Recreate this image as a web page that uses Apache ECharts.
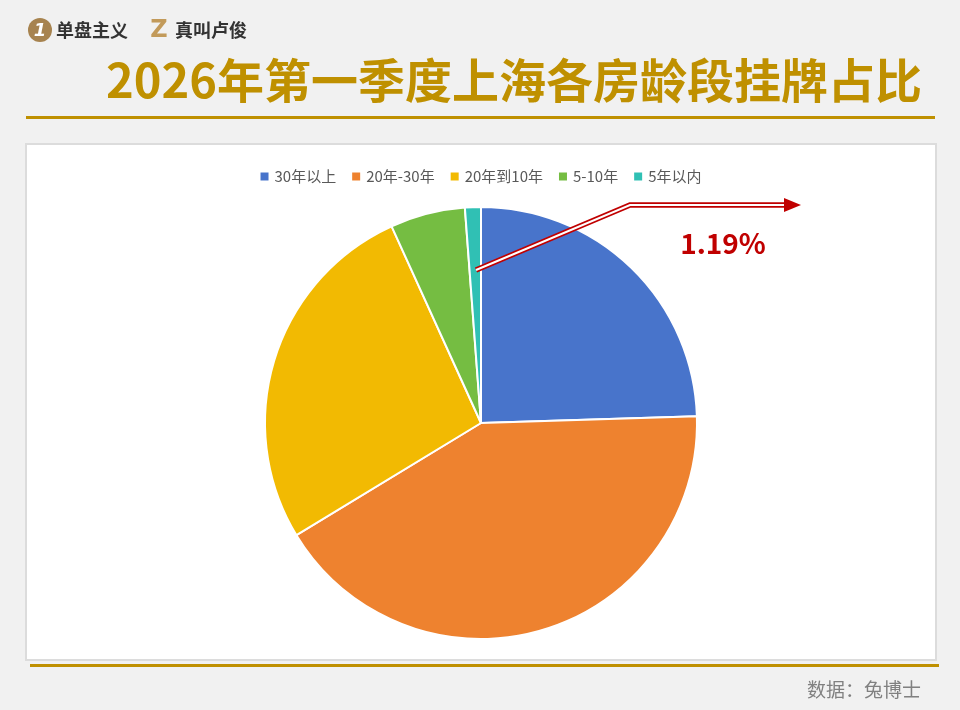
<!DOCTYPE html>
<html><head><meta charset="utf-8">
<script src="https://cdn.jsdelivr.net/npm/echarts@6/dist/echarts.min.js"></script>
<style>html,body{margin:0;padding:0;background:#f1f1f1;}#c{width:960px;height:710px;}</style>
</head><body><div id="c"></div>
<script>
const categories = ['30年以上', '20年-30年', '20年到10年', '5-10年', '5年以内'];
const shares = [24.5, 41.8, 26.9, 5.6, 1.19];
const colors = ['#4874CB', '#EE822F', '#F2BA02', '#75BD42', '#30C0B4'];
const titleText = '2026年第一季度上海各房龄段挂牌占比';
const calloutText = '1.19%';
const sourceText = '数据：兔博士';

const chart = echarts.init(document.getElementById('c'));
const gold = '#BF9000';
const red = '#C00000';
const arrowPts = [[476, 270], [630, 205], [786, 205]];
chart.setOption({
  backgroundColor: '#f1f1f1',
  animation: false,
  color: colors,
  legend: {
    top: 164, left: 'center', itemWidth: 10, itemHeight: 10, itemGap: 14,
    icon: 'rect',
    textStyle: {color: '#595959', fontSize: 15, fontFamily: 'Noto Sans CJK SC'},
    data: categories
  },
  graphic: [
    {type: 'rect', z: 0, shape: {x: 26, y: 144, width: 910, height: 516}, style: {fill: '#fff', stroke: '#dcdcdc', lineWidth: 2}},
    {type: 'rect', shape: {x: 26, y: 116, width: 909, height: 3}, style: {fill: gold}},
    {type: 'rect', shape: {x: 30, y: 664, width: 909, height: 3}, style: {fill: gold}},
    {type: 'text', style: {text: titleText, x: 106, y: 80, verticalAlign: 'middle', fill: gold, fontSize: 47, fontWeight: 'bold', fontFamily: 'Noto Sans CJK SC'}},
    {type: 'circle', shape: {cx: 40, cy: 30, r: 12}, style: {fill: '#A7834F'}},
    {type: 'text', style: {text: '1', x: 40, y: 31, align: 'center', verticalAlign: 'middle', fill: '#fff', fontSize: 18, fontWeight: 'bold', fontStyle: 'italic', fontFamily: 'DejaVu Sans'}},
    {type: 'text', style: {text: '单盘主义', x: 56, y: 30, verticalAlign: 'middle', fill: '#333', fontSize: 18, fontWeight: 'bold', fontFamily: 'Noto Sans CJK SC'}},
    {type: 'text', style: {text: 'Z', x: 159, y: 31, align: 'center', verticalAlign: 'middle', fill: '#C29A5A', fontSize: 24, fontWeight: 'bold', fontFamily: 'DejaVu Sans'}},
    {type: 'text', style: {text: '真叫卢俊', x: 175, y: 30, verticalAlign: 'middle', fill: '#333', fontSize: 18, fontWeight: 'bold', fontFamily: 'Noto Sans CJK SC'}},
    {type: 'polyline', z: 10, shape: {points: arrowPts}, style: {stroke: red, lineWidth: 5.5, fill: null}},
    {type: 'polyline', z: 11, shape: {points: arrowPts}, style: {stroke: '#fff', lineWidth: 2, fill: null}},
    {type: 'polygon', z: 12, shape: {points: [[784, 198], [801, 205], [784, 212]]}, style: {fill: red}},
    {type: 'text', z: 12, style: {text: calloutText, x: 723, y: 243, align: 'center', verticalAlign: 'middle', fill: red, fontSize: 28, fontWeight: 'bold', fontFamily: 'Noto Sans CJK SC'}},
    {type: 'text', style: {text: sourceText, x: 921, y: 690, align: 'right', verticalAlign: 'middle', fill: '#808080', fontSize: 19, fontFamily: 'Noto Sans CJK SC'}}
  ],
  series: [{
    type: 'pie', z: 5,
    center: [481, 423], radius: 216, startAngle: 90, clockwise: true,
    label: {show: false}, labelLine: {show: false},
    itemStyle: {borderColor: '#fff', borderWidth: 2},
    emphasis: {disabled: true},
    data: categories.map((n, i) => ({name: n, value: shares[i]}))
  }]
});
</script></body></html>
